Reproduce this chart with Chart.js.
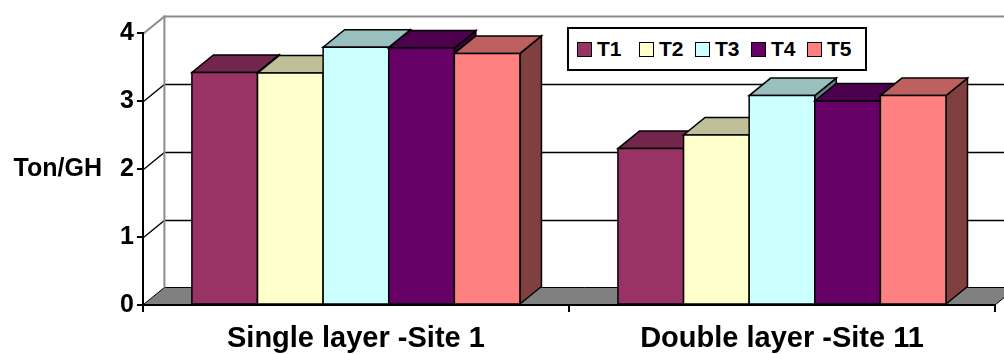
<!DOCTYPE html>
<html>
<head>
<meta charset="utf-8">
<title>Ton/GH</title>
<script src="https://cdn.jsdelivr.net/npm/chart.js@4.4.0/dist/chart.umd.min.js"></script>
<style>
  body { margin: 0; background: #fff; }
  #wrap { position: relative; width: 1004px; height: 354px; }
  #legend {
    position: absolute; left: 567px; top: 27px;
    width: 288px; height: 40px; padding-left: 8px;
    border: 2px solid #000; background: #fff;
    display: flex; align-items: center;
    font: bold 21px "Liberation Sans", Arial, sans-serif; color: #000;
  }
  #legend .item { display: flex; align-items: center; width: 56px; }
  #legend .item:first-child { width: 62px; }
  #legend .swatch { width: 15px; height: 15px; box-sizing: border-box; border: 1.5px solid #000; margin-right: 5px; }
</style>
</head>
<body>
<div id="wrap">
  <canvas id="chart" width="1004" height="354"></canvas>
  <div id="legend"></div>
</div>
<script>
const categories = ['Single layer -Site 1', 'Double layer -Site 11'];
const treatments = ['T1', 'T2', 'T3', 'T4', 'T5'];
const t1 = [3.42, 2.30];
const t2 = [3.41, 2.50];
const t3 = [3.79, 3.08];
const t4 = [3.78, 3.00];
const t5 = [3.70, 3.08];
const yTicks = [0, 1, 2, 3, 4];
const yTitle = 'Ton/GH';

const colors = ['#993366', '#FFFFCC', '#CCFFFF', '#660066', '#FF8080'];
const depth = { dx: 21.5, dy: -17.5 };

Chart.defaults.font.family = '"Liberation Sans", Arial, sans-serif';
Chart.defaults.color = '#000';

function shade(hex, f) {
  const n = parseInt(hex.slice(1), 16);
  const r = Math.round(((n >> 16) & 255) * f);
  const g = Math.round(((n >> 8) & 255) * f);
  const b = Math.round((n & 255) * f);
  return `rgb(${r},${g},${b})`;
}

function poly(ctx, pts, fill) {
  ctx.beginPath();
  ctx.moveTo(pts[0][0], pts[0][1]);
  for (let i = 1; i < pts.length; i++) ctx.lineTo(pts[i][0], pts[i][1]);
  ctx.closePath();
  if (fill) { ctx.fillStyle = fill; ctx.fill(); }
  ctx.stroke();
}

// walls, floor and boxes drawn with a fixed oblique depth
const box3d = {
  id: 'box3d',
  beforeDraw(chart) {
    const { ctx, chartArea: a, scales: { y } } = chart;
    const { dx, dy } = depth;
    ctx.save();
    ctx.lineJoin = 'miter';

    // floor
    ctx.strokeStyle = '#000';
    ctx.lineWidth = 1;
    poly(ctx, [[a.left, a.bottom], [a.right, a.bottom], [a.right + dx, a.bottom + dy], [a.left + dx, a.bottom + dy]], '#808080');

    // gridlines: along the side wall, then across the back wall
    y.ticks.forEach(t => {
      if (t.value === y.min) return;
      const py = Math.round(y.getPixelForValue(t.value) + dy) + 0.5 - dy;
      const edge = t.value === y.max;
      ctx.strokeStyle = edge ? '#8c8c8c' : '#000';
      ctx.lineWidth = edge ? 2 : 1.3;
      ctx.beginPath();
      ctx.moveTo(a.left, py);
      ctx.lineTo(a.left + dx, py + dy);
      ctx.lineTo(chart.width + 10, py + dy);
      ctx.stroke();
    });

    // back corner of the side wall
    ctx.strokeStyle = '#8c8c8c';
    ctx.lineWidth = 2;
    ctx.beginPath();
    ctx.moveTo(a.left + dx, a.top + dy);
    ctx.lineTo(a.left + dx, a.bottom + dy);
    ctx.stroke();
    ctx.restore();
  },
  beforeDatasetsDraw(chart) {
    const { ctx } = chart;
    const { dx, dy } = depth;
    ctx.save();
    ctx.strokeStyle = '#000';
    ctx.lineWidth = 1.5;
    ctx.lineJoin = 'miter';
    categories.forEach((c, j) => {
      chart.data.datasets.forEach((ds, i) => {
        const el = chart.getDatasetMeta(i).data[j];
        const l = el.x - el.width / 2;
        const r = el.x + el.width / 2;
        const top = el.y;
        const base = el.base;
        const col = ds.backgroundColor;
        poly(ctx, [[r, top], [r + dx, top + dy], [r + dx, base + dy], [r, base]], shade(col, 0.5));
        poly(ctx, [[l, top], [r, top], [r + dx, top + dy], [l + dx, top + dy]], shade(col, 0.75));
        poly(ctx, [[l, top], [r, top], [r, base], [l, base]], col);
      });
    });
    ctx.restore();
    return false;
  },
  afterDraw(chart) {
    const { ctx, scales: { y } } = chart;
    ctx.save();
    ctx.font = 'bold 25px "Liberation Sans", Arial, sans-serif';
    ctx.fillStyle = '#000';
    ctx.textAlign = 'right';
    ctx.textBaseline = 'middle';
    ctx.fillText(yTitle, y.left - 15, (y.top + y.bottom) / 2);
    ctx.restore();
  }
};

const series = [t1, t2, t3, t4, t5];

const chart = new Chart(document.getElementById('chart'), {
  type: 'bar',
  data: {
    labels: categories,
    datasets: treatments.map((name, i) => ({
      label: name,
      data: series[i],
      backgroundColor: colors[i],
      borderColor: '#000',
      borderWidth: 1.5,
      categoryPercentage: 0.77,
      barPercentage: 1
    }))
  },
  options: {
    responsive: false,
    animation: false,
    layout: { padding: { left: 117, right: 9, top: 33, bottom: 0 } },
    plugins: {
      legend: { display: false },
      tooltip: { enabled: false }
    },
    scales: {
      x: {
        afterFit: s => { s.height = 49; },
        grid: { drawOnChartArea: false, color: '#000', lineWidth: 2, tickLength: 7 },
        border: { display: true, color: '#000', width: 2 },
        ticks: { padding: 12, font: { size: 29, weight: 'bold', lineHeight: 1 } }
      },
      y: {
        min: 0,
        max: 4,
        afterBuildTicks: s => { s.ticks = yTicks.map(v => ({ value: v })); },
        grid: { drawOnChartArea: false, color: '#000', lineWidth: 2, tickLength: 6 },
        border: { display: true, color: '#000', width: 2 },
        ticks: { padding: 3, font: { size: 25, weight: 'bold' } }
      }
    }
  },
  plugins: [box3d]
});

// legend built from the chart's own legend items
const legendEl = document.getElementById('legend');
Chart.defaults.plugins.legend.labels.generateLabels(chart).forEach(item => {
  const row = document.createElement('div');
  row.className = 'item';
  const sw = document.createElement('span');
  sw.className = 'swatch';
  sw.style.background = item.fillStyle;
  const txt = document.createElement('span');
  txt.textContent = item.text;
  row.appendChild(sw);
  row.appendChild(txt);
  legendEl.appendChild(row);
});
</script>
</body>
</html>
